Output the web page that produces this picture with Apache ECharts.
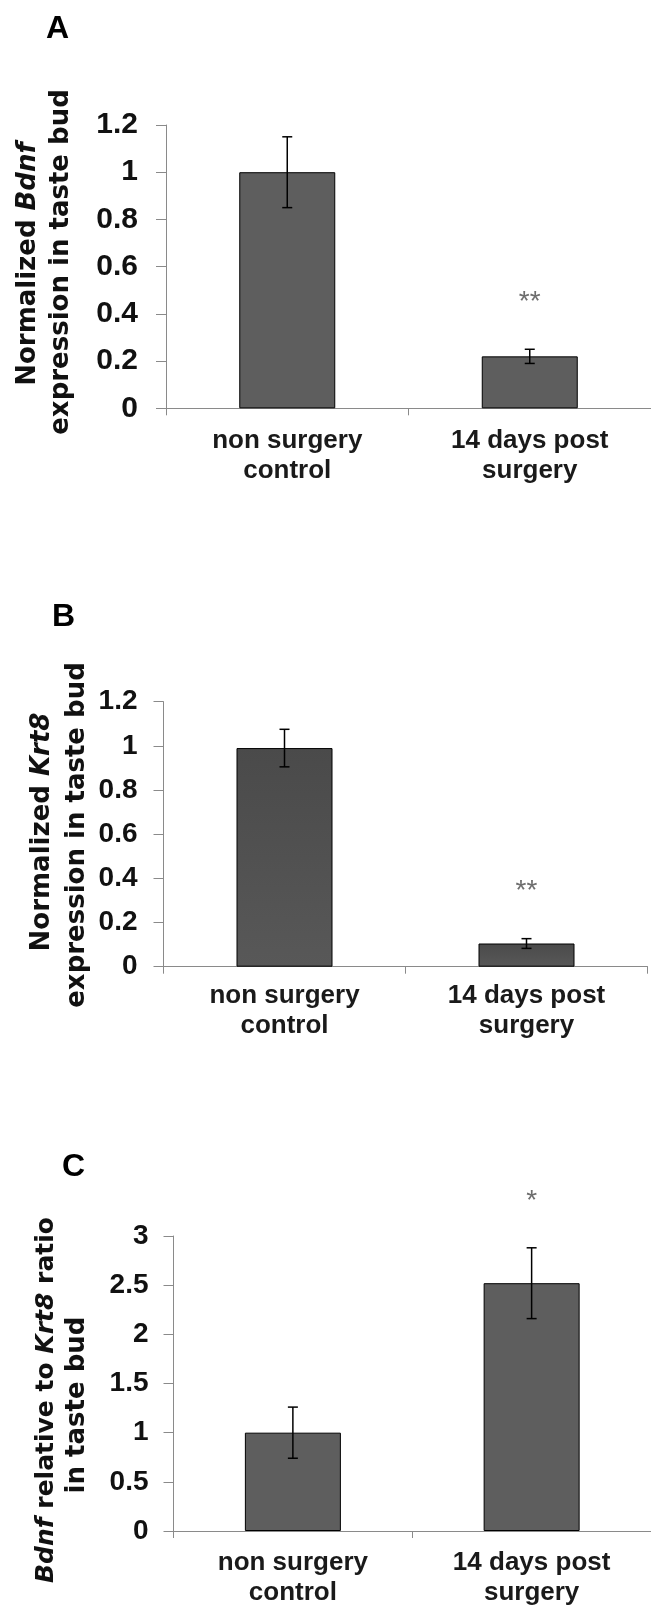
<!DOCTYPE html>
<html>
<head>
<meta charset="utf-8">
<script src="https://cdn.jsdelivr.net/npm/echarts@6/dist/echarts.min.js"></script>
<style>
html,body{margin:0;padding:0;background:#fff;}
#chart{width:651px;height:1612px;}
</style>
</head>
<body>
<div id="chart"></div>
<script>
// ---- data ----
const categories = ['non surgery\ncontrol', '14 days post\nsurgery'];

const bdnfMean = [1.0, 0.22];
const bdnfErr = [0.15, 0.03];
const bdnfSig = ['', '**'];

const krt8Mean = [0.99, 0.105];
const krt8Err = [0.085, 0.022];
const krt8Sig = ['', '**'];

const ratioMean = [1.0, 2.52];
const ratioErr = [0.26, 0.36];
const ratioSig = ['', '*'];

const yMaxAB = 1.2, yStepAB = 0.2;
const yMaxC = 3, yStepC = 0.5;

const panelLetters = ['A', 'B', 'C'];

// ---- helpers ----
const TICK_FONT = '"Liberation Sans", Arial, sans-serif';
const TITLE_FONT = '"DejaVu Sans", sans-serif';
const axisGrey = '#8a8a8a';

function errRenderer(sig) {
  return function (params, api) {
    const i = api.value(0), m = api.value(1), e = api.value(2);
    const top = api.coord([i, m + e]);
    const bot = api.coord([i, m - e]);
    const cap = 5;
    const ls = { stroke: '#000', lineWidth: 1.5 };
    const children = [
      { type: 'line', shape: { x1: top[0], y1: top[1], x2: bot[0], y2: bot[1] }, style: ls },
      { type: 'line', shape: { x1: top[0] - cap, y1: top[1], x2: top[0] + cap, y2: top[1] }, style: ls },
      { type: 'line', shape: { x1: bot[0] - cap, y1: bot[1], x2: bot[0] + cap, y2: bot[1] }, style: ls }
    ];
    const s = sig[params.dataIndex];
    if (s) {
      children.push({
        type: 'text',
        x: top[0], y: top[1] - 47,
        style: { text: s, fill: '#6e6e6e', font: '28px "Liberation Sans", Arial, sans-serif',
                 align: 'center', verticalAlign: 'middle' }
      });
    }
    return { type: 'group', children: children };
  };
}

function errData(mean, err) {
  return mean.map((m, i) => [i, m, err[i]]);
}

function xAxisCfg(gi, margin) {
  return {
    type: 'category', gridIndex: gi, data: categories,
    axisLine: { lineStyle: { color: axisGrey, width: 1 } },
    axisTick: { show: true, length: 7, inside: false, lineStyle: { color: axisGrey } },
    axisLabel: { margin: margin, color: '#1a1a1a', fontWeight: 'bold', fontSize: 26,
                 fontFamily: TICK_FONT, lineHeight: 30, interval: 0 },
    splitLine: { show: false }
  };
}

function yAxisCfg(gi, max, step, fs, margin) {
  return {
    type: 'value', gridIndex: gi, min: 0, max: max, interval: step,
    axisLine: { show: true, lineStyle: { color: axisGrey, width: 1 } },
    axisTick: { show: true, length: 10, inside: false, lineStyle: { color: axisGrey } },
    axisLabel: { margin: margin, color: '#111', fontWeight: 'bold', fontSize: fs, fontFamily: TICK_FONT },
    splitLine: { show: false }
  };
}

function barSeries(idx, data, color) {
  return {
    type: 'bar', xAxisIndex: idx, yAxisIndex: idx, data: data, barWidth: 96,
    itemStyle: { color: color, borderColor: '#000', borderWidth: 1 },
    silent: true, animation: false
  };
}

function errSeries(idx, mean, err, sig) {
  return {
    type: 'custom', xAxisIndex: idx, yAxisIndex: idx,
    data: errData(mean, err), renderItem: errRenderer(sig),
    clip: false, silent: true, animation: false, z: 5
  };
}

function titleText(x, y, parts, fs) {
  fs = fs || 26;
  return {
    type: 'text', x: x, y: y, rotation: Math.PI / 2,
    style: {
      text: parts,
      align: 'center', verticalAlign: 'middle',
      fill: '#111',
      font: 'bold ' + fs + 'px ' + TITLE_FONT,
      rich: {
        n: { fontFamily: TITLE_FONT, fontWeight: 'bold', fontSize: fs, fill: '#111' },
        i: { fontFamily: TITLE_FONT, fontWeight: 'bold', fontStyle: 'italic', fontSize: fs, fill: '#111' }
      }
    }
  };
}

function letter(x, y, t) {
  return { type: 'text', x: x, y: y,
    style: { text: t, fill: '#000', font: 'bold 32px ' + TICK_FONT, align: 'left', verticalAlign: 'top' } };
}

const barB = new echarts.graphic.LinearGradient(0, 0, 0, 1, [
  { offset: 0, color: '#4a4a4a' }, { offset: 1, color: '#585858' }
]);

const option = {
  backgroundColor: '#fff',
  animation: false,
  grid: [
    { left: 166, top: 125, width: 490, height: 283.3 },
    { left: 163.5, top: 701.7, width: 484, height: 265 },
    { left: 173.5, top: 1236, width: 485, height: 295 }
  ],
  xAxis: [xAxisCfg(0, 18), xAxisCfg(1, 14), xAxisCfg(2, 17)],
  yAxis: [
    yAxisCfg(0, yMaxAB, yStepAB, 30, 28),
    yAxisCfg(1, yMaxAB, yStepAB, 28, 26),
    yAxisCfg(2, yMaxC, yStepC, 28, 25)
  ],
  series: [
    barSeries(0, bdnfMean, '#5e5e5e'),
    errSeries(0, bdnfMean, bdnfErr, bdnfSig),
    barSeries(1, krt8Mean, barB),
    errSeries(1, krt8Mean, krt8Err, krt8Sig),
    barSeries(2, ratioMean, '#5e5e5e'),
    errSeries(2, ratioMean, ratioErr, ratioSig)
  ],
  graphic: [
    letter(46, 13, panelLetters[0]),
    letter(52, 601, panelLetters[1]),
    letter(62, 1151, panelLetters[2]),
    titleText(28, 264, '{n|Normalized }{i|Bdnf}'),
    titleText(61, 262, '{n|expression in taste bud}'),
    titleText(42, 832, '{n|Normalized }{i|Krt8}'),
    titleText(77, 835, '{n|expression in taste bud}'),
    titleText(46, 1400, '{i|Bdnf}{n| relative to }{i|Krt8}{n| ratio}', 25),
    titleText(77, 1405, '{n|in taste bud}')
  ]
};

const chart = echarts.init(document.getElementById('chart'), null, { renderer: 'canvas' });
chart.setOption(option);
</script>
</body>
</html>
